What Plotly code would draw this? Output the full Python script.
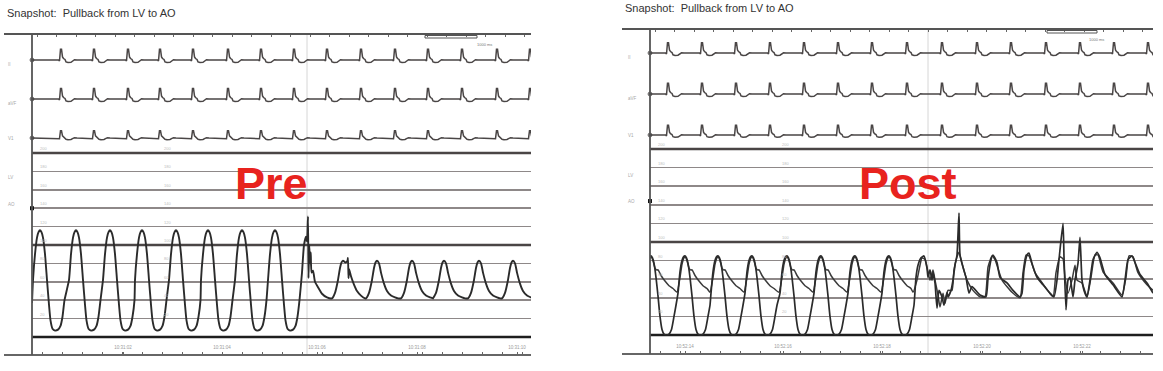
import plotly.graph_objects as go

# ---------------- data (times in s, pressures in mmHg, ECG in mV) ----------------
TITLE = "Snapshot:  Pullback from LV to AO"
PANEL_LABELS = ["Pre", "Post"]

# ECG single-beat shape relative to R peak (normalised amplitude)
ECG_SHAPE_DT = [-0.20, -0.05, -0.03, -0.01, 0.01, 0.03, 0.05, 0.08, 0.10, 0.14, 0.20, 0.24, 0.27, 0.32]
ECG_SHAPE_MV = [0.0, 0.0, -0.08, 0.85, 0.85, 0.25, 0.12, 0.04, -0.15, -0.2, -0.18, -0.05, 0.02, 0.0]

PRE_R_TIMES = [0.58, 1.24, 1.92, 2.56, 3.22, 3.92, 4.58, 5.24, 5.90, 6.58, 7.26, 7.92, 8.60, 9.30, 9.96]
POST_R_TIMES = [0.36, 1.04, 1.72, 2.40, 3.08, 3.76, 4.44, 5.14, 5.84, 6.54, 7.22, 7.92, 8.60, 9.28, 9.96]
PRE_ECG_GAIN = [1.25, 1.25, 0.85]
POST_ECG_GAIN = [1.2, 1.25, 1.15]
ECG_LEADS = ["II", "aVF", "V1"]

# Pre: LV beat shape relative to systolic peak
PRE_LV_DT = [-0.14, -0.10, -0.06, -0.03, 0.0, 0.03, 0.06, 0.10, 0.14, 0.18, 0.21, 0.25, 0.30, 0.36, 0.41, 0.45, 0.49]
PRE_LV_P = [62, 90, 108, 114, 116, 114, 108, 90, 62, 35, 18, 9, 7, 8, 12, 22, 40]
PRE_LV_PEAKS = [0.16, 0.88, 1.56, 2.20, 2.88, 3.52, 4.20, 4.86]
PRE_START_T = [0.0]
PRE_START_P = [37]
# Pre: pull-back transition LV -> AO (incl. first aortic beat)
PRE_PULL_T = [5.40, 5.44, 5.48, 5.50, 5.52, 5.53, 5.545, 5.56, 5.575, 5.59, 5.62, 5.66, 5.72, 5.80, 5.90, 6.00,
              6.06, 6.12, 6.16, 6.19, 6.22, 6.27, 6.31, 6.32, 6.33, 6.34, 6.38, 6.44, 6.50, 6.58, 6.66]
PRE_PULL_P = [70, 100, 109, 104, 131, 64, 100, 80, 92, 70, 72, 60, 54, 47, 43, 42,
              48, 62, 75, 81, 83, 81, 83, 86, 64, 74, 66, 57, 50, 45, 42]
# Pre: aortic beat shape relative to peak
PRE_AO_DT = [-0.22, -0.16, -0.10, -0.06, -0.03, 0.0, 0.04, 0.08, 0.14, 0.20, 0.28, 0.36, 0.42]
PRE_AO_P = [42, 48, 62, 75, 81, 83, 80, 70, 58, 50, 45, 43, 42]
PRE_AO_PEAKS = [6.90, 7.60, 8.24, 8.94, 9.62]

# Post: LV and AO beat shapes relative to LV systolic peak
POST_LV_DT = [-0.14, -0.10, -0.06, -0.03, 0.0, 0.03, 0.06, 0.10, 0.14, 0.18, 0.22, 0.26, 0.31, 0.36, 0.41, 0.46, 0.50]
POST_LV_P = [45, 68, 80, 84, 85, 83, 77, 62, 42, 20, 6, 1, 0, 1, 6, 20, 32]
POST_AO_DT = [-0.16, -0.10, -0.06, -0.02, 0.0, 0.04, 0.08, 0.11, 0.14, 0.20, 0.28, 0.36, 0.44]
POST_AO_P = [46, 62, 76, 83, 84, 80, 72, 70, 70, 64, 58, 53, 50]
POST_PEAKS = [0.02, 0.70, 1.36, 2.04, 2.74, 3.42, 4.10, 4.78]
# Post: after pull-back both catheters in aorta
POST_A_T = [5.32, 5.36, 5.42, 5.48, 5.54, 5.56, 5.60, 5.64, 5.66, 5.70, 5.74, 5.78, 5.84, 5.88, 5.94, 5.96, 6.02,
            6.06, 6.10, 6.14, 6.18, 6.20, 6.26, 6.32, 6.38, 6.44, 6.60, 6.72, 6.76, 6.82, 6.86, 6.94, 7.00,
            7.14, 7.26, 7.40, 7.44, 7.48, 7.54, 7.58, 7.64, 7.74, 7.86, 8.00, 8.08, 8.14, 8.18, 8.26, 8.28,
            8.32, 8.36, 8.40, 8.46, 8.50, 8.56, 8.60, 8.64, 8.68, 8.74, 8.80, 8.86, 8.94, 9.00, 9.10, 9.26,
            9.44, 9.50, 9.56, 9.64, 9.70, 9.80, 9.94, 10.06]
POST_A_P = [62, 75, 83, 85, 72, 62, 70, 59, 67, 56, 29, 48, 41, 32, 46, 41, 48,
            59, 75, 86, 131, 86, 73, 62, 45, 52, 43, 41, 61, 81, 86, 78, 62,
            56, 48, 41, 45, 70, 86, 88, 77, 62, 54, 45, 41, 59, 81, 120, 84,
            27, 59, 62, 41, 59, 77, 105, 59, 48, 41, 59, 81, 89, 83, 65, 54,
            41, 59, 81, 85, 78, 65, 56, 45]
POST_B_T = [5.26, 5.34, 5.40, 5.44, 5.50, 5.56, 5.60, 5.66, 5.70, 5.76, 5.80, 5.86, 5.90, 5.96, 6.04, 6.08,
            6.14, 6.18, 6.24, 6.34, 6.46, 6.60, 6.70, 6.76, 6.84, 6.90, 7.04, 7.24, 7.40, 7.46, 7.52, 7.58,
            7.70, 7.90, 8.06, 8.12, 8.20, 8.26, 8.30, 8.36, 8.44, 8.50, 8.54, 8.64, 8.74, 8.82, 8.90, 8.96,
            9.06, 9.26, 9.44, 9.52, 9.58, 9.66, 9.76, 9.94, 10.06]
POST_B_P = [46, 59, 75, 83, 81, 68, 59, 70, 59, 43, 30, 45, 34, 48, 48, 70,
            84, 89, 77, 59, 48, 41, 41, 73, 85, 81, 59, 46, 40, 67, 86, 85,
            67, 52, 41, 67, 84, 82, 62, 45, 59, 75, 59, 56, 41, 62, 86, 86,
            68, 56, 43, 62, 85, 84, 67, 54, 48]

PRESSURE_GRID = [20, 40, 60, 80, 120, 140, 160, 180]
PRESSURE_MAJOR = [0, 100, 200]
PRESSURE_LABELS = [20, 40, 60, 80, 100, 120, 140, 160, 180, 200]
CHANNEL_MARK_P = [140, 144]
CURSOR_T = [5.50, 5.56]
PRE_TIME_TICKS = [1.82, 3.80, 5.70, 7.70, 9.70]
PRE_TIME_TEXT = ["10:31:02", "10:31:04", "10:31:06", "10:31:08", "10:31:10"]
POST_TIME_TICKS = [0.70, 2.66, 4.64, 6.64, 8.64]
POST_TIME_TEXT = ["10:52:14", "10:52:16", "10:52:18", "10:52:20", "10:52:22"]

# ---------------- helpers ----------------
W, H = 1163, 371
def X(p): return p / W
def Y(p): return 1 - p / H

def beats(times, dts, vals, gain=1.0):
    xs, ys = [], []
    for b in times:
        for dt, v in zip(dts, vals):
            xs.append(b + dt)
            ys.append(v * gain)
    return xs, ys

INK = "#2b2b2b"
ECG_INK = "#4a4646"
GRID = "#8e8888"
FONT = "Liberation Sans, Arial, sans-serif"

fig = go.Figure()

panels = [
    dict(name="pre", xr=[0, 9.98], xdom=[X(32), X(531)], pdom=[Y(355), Y(150)], prange=[-19.6, 203.3],
         rows=[[Y(75), Y(34)], [Y(114), Y(84)], [Y(153), Y(123)]],
         rranges=[[-1.5, 2.6], [-1.5, 1.5], [-1.5, 1.5]],
         rtimes=PRE_R_TIMES, gains=PRE_ECG_GAIN, ticks=PRE_TIME_TICKS, ticktext=PRE_TIME_TEXT,
         xa=("x", "x2"), ya=("y", "y2", "y3", "y4"), left=32, right=531, top=34, bottom=355, lab_x=6,
         baselines=[60, 99, 138], ch=[178, 204], label_xy=(271, 183), title_xy=(5, 13),
         bar=(425, 477, 35.5, 38), bar_txt=(484, 40), mark=CHANNEL_MARK_P[0], cursor=CURSOR_T[0]),
    dict(name="post", xr=[0, 10.06], xdom=[X(650), X(1153)], pdom=[Y(354), Y(146)], prange=[-20.4, 203.2],
         rows=[[Y(68), Y(29)], [Y(109), Y(79)], [Y(150), Y(120)]],
         rranges=[[-1.5, 2.4], [-1.5, 1.5], [-1.5, 1.5]],
         rtimes=POST_R_TIMES, gains=POST_ECG_GAIN, ticks=POST_TIME_TICKS, ticktext=POST_TIME_TEXT,
         xa=("x3", "x4"), ya=("y5", "y6", "y7", "y8"), left=650, right=1153, top=29, bottom=354, lab_x=626,
         baselines=[53, 94, 135], ch=[175, 201], label_xy=(908, 183), title_xy=(623, 8),
         bar=(1047, 1097, 30.5, 33), bar_txt=(1106, 35), mark=CHANNEL_MARK_P[1], cursor=CURSOR_T[1]),
]

# pressure traces
xs, ys = beats(PRE_LV_PEAKS, PRE_LV_DT, PRE_LV_P)
xa, ya = beats(PRE_AO_PEAKS, PRE_AO_DT, PRE_AO_P)
pre_t = PRE_START_T + xs + PRE_PULL_T + xa
pre_p = PRE_START_P + ys + PRE_PULL_P + ya
fig.add_trace(go.Scatter(x=pre_t, y=pre_p, xaxis="x", yaxis="y", mode="lines",
                         line=dict(color=INK, width=1.9, shape="spline", smoothing=0.5), hoverinfo="skip"))

lx, lp = beats(POST_PEAKS, POST_LV_DT, POST_LV_P)
bx, bp = beats(POST_PEAKS, POST_AO_DT, POST_AO_P)
fig.add_trace(go.Scatter(x=bx + POST_B_T, y=bp + POST_B_P, xaxis="x3", yaxis="y5", mode="lines",
                         line=dict(color="#3a3a3a", width=1.5, shape="spline", smoothing=0.5), hoverinfo="skip"))
fig.add_trace(go.Scatter(x=lx + POST_A_T, y=lp + POST_A_P, xaxis="x3", yaxis="y5", mode="lines",
                         line=dict(color=INK, width=1.7, shape="spline", smoothing=0.5), hoverinfo="skip"))

layout = dict(width=W, height=H, margin=dict(l=0, r=0, t=0, b=0), paper_bgcolor="white",
              plot_bgcolor="rgba(0,0,0,0)", showlegend=False, font=dict(family=FONT))
shapes, annotations = [], []

for pnl in panels:
    xmain, xtop = pnl["xa"]
    yp, y1, y2, y3 = pnl["ya"]
    xkey, xtkey = "xaxis" + xmain[1:], "xaxis" + xtop[1:]
    # channel marker dot
    fig.add_trace(go.Scatter(x=[pnl["xr"][0]], y=[pnl["mark"]], xaxis=xmain, yaxis=yp, mode="markers",
                             marker=dict(color="#111", size=4, symbol="square"), hoverinfo="skip",
                             cliponaxis=False))
    # ECG rows
    for i, (yk, rng, dom) in enumerate(zip((y1, y2, y3), pnl["rranges"], pnl["rows"])):
        ex, ey = beats(pnl["rtimes"], ECG_SHAPE_DT, ECG_SHAPE_MV, pnl["gains"][i])
        ex = [pnl["xr"][0]] + ex
        ey = [0.0] + ey
        fig.add_trace(go.Scatter(x=ex, y=ey, xaxis=(xtop if i == 0 else xmain), yaxis=yk,
                                 mode="lines+markers", cliponaxis=False,
                                 line=dict(color=ECG_INK, width=1.5),
                                 marker=dict(color="#111", size=[4] + [0] * (len(ex) - 1)),
                                 hoverinfo="skip"))
        layout["yaxis" + yk[1:]] = dict(domain=dom, range=rng, visible=False,
                                        anchor=(xtop if i == 0 else xmain), fixedrange=True)
    layout[xkey] = dict(domain=pnl["xdom"], range=pnl["xr"], anchor=yp, showgrid=False, zeroline=False,
                        showline=False, ticks="inside", ticklen=3, tickcolor="#666",
                        tickmode="array", tickvals=pnl["ticks"], ticktext=pnl["ticktext"],
                        ticklabelposition="inside", tickfont=dict(size=4.5, color="#9a9a9a"),
                        minor=dict(tickmode="linear", tick0=0.2, dtick=0.4, ticks="inside", ticklen=3,
                                   tickcolor="#666", showgrid=False))
    layout[xtkey] = dict(domain=pnl["xdom"], matches=xmain, anchor=y1, side="top", showgrid=False,
                         zeroline=False, showline=False, ticks="inside", ticklen=3, tickcolor="#666",
                         tickmode="linear", tick0=0.1, dtick=0.39, showticklabels=False)
    layout["yaxis" + yp[1:]] = dict(domain=pnl["pdom"], range=pnl["prange"], anchor=xmain,
                                    tickmode="array", tickvals=PRESSURE_GRID, showgrid=True,
                                    gridcolor=GRID, gridwidth=1.7, showticklabels=False, ticks="",
                                    zeroline=False, showline=False)
    # heavy scale lines
    for v in PRESSURE_MAJOR:
        shapes.append(dict(type="line", xref=xmain, yref=yp, x0=pnl["xr"][0], x1=pnl["xr"][1], y0=v, y1=v,
                           line=dict(color="#1e1e1e" if v == 0 else "#4a4545", width=2.4), layer="below"))
    # tiny scale labels on grid lines
    for v in PRESSURE_LABELS:
        for tx in (pnl["xr"][0] + 0.12, pnl["xr"][0] + 2.6):
            annotations.append(dict(x=tx, y=v, xref=xmain, yref=yp, text=str(v), showarrow=False,
                                    xanchor="left", yanchor="bottom", font=dict(size=4, color="#bdbdbd")))
    # cursor line
    shapes.append(dict(type="line", xref=xmain, yref="paper", x0=pnl["cursor"], x1=pnl["cursor"],
                       y0=Y(pnl["bottom"]), y1=Y(pnl["top"]), line=dict(color="#d6d6d6", width=1),
                       layer="below"))
    # frame: top line, bottom line, left vertical
    frame_left = pnl["left"] - 28
    shapes.append(dict(type="line", xref="paper", yref="paper", x0=X(frame_left), x1=X(pnl["right"]),
                       y0=Y(pnl["top"]), y1=Y(pnl["top"]), line=dict(color="#555", width=2)))
    shapes.append(dict(type="line", xref="paper", yref="paper", x0=X(frame_left), x1=X(pnl["right"]),
                       y0=Y(pnl["bottom"]), y1=Y(pnl["bottom"]), line=dict(color="#666", width=2)))
    shapes.append(dict(type="line", xref="paper", yref="paper", x0=X(pnl["left"]), x1=X(pnl["left"]),
                       y0=Y(pnl["bottom"]), y1=Y(pnl["top"]), line=dict(color="#555", width=1.8)))
    # scale bar
    b = pnl["bar"]
    shapes.append(dict(type="rect", xref="paper", yref="paper", x0=X(b[0]), x1=X(b[1]), y0=Y(b[3]), y1=Y(b[2]),
                       line=dict(color="#555", width=1)))
    annotations.append(dict(x=X(pnl["bar_txt"][0]), y=Y(pnl["bar_txt"][1]), xref="paper", yref="paper",
                            text="1000 ms", showarrow=False, font=dict(size=4, color="#777")))
    # channel labels
    for lab, yb in zip(ECG_LEADS + ["LV", "AO"], pnl["baselines"] + pnl["ch"]):
        annotations.append(dict(x=X(pnl["lab_x"]), y=Y(yb), xref="paper", yref="paper", text=lab,
                                showarrow=False, xanchor="left", font=dict(size=4.5, color="#a8a8a8")))
    # title
    annotations.append(dict(x=X(pnl["title_xy"][0]), y=Y(pnl["title_xy"][1]), xref="paper", yref="paper",
                            text=TITLE, showarrow=False, xanchor="left", yanchor="middle",
                            font=dict(size=11, color="#333", family=FONT)))

# Pre / Post labels
for lab, pnl in zip(PANEL_LABELS, panels):
    annotations.append(dict(x=X(pnl["label_xy"][0]), y=Y(pnl["label_xy"][1]), xref="paper", yref="paper",
                            text="<b>" + lab + "</b>", showarrow=False, xanchor="center", yanchor="middle",
                            font=dict(size=45, color="#e8231e", family=FONT)))

layout["shapes"] = shapes
layout["annotations"] = annotations
fig.update_layout(**layout)
fig.write_html("out.html", config={"displayModeBar": False, "staticPlot": True},
               post_script="document.body.style.margin='0';document.body.style.padding='0';"
                           "document.body.style.overflow='hidden';")
